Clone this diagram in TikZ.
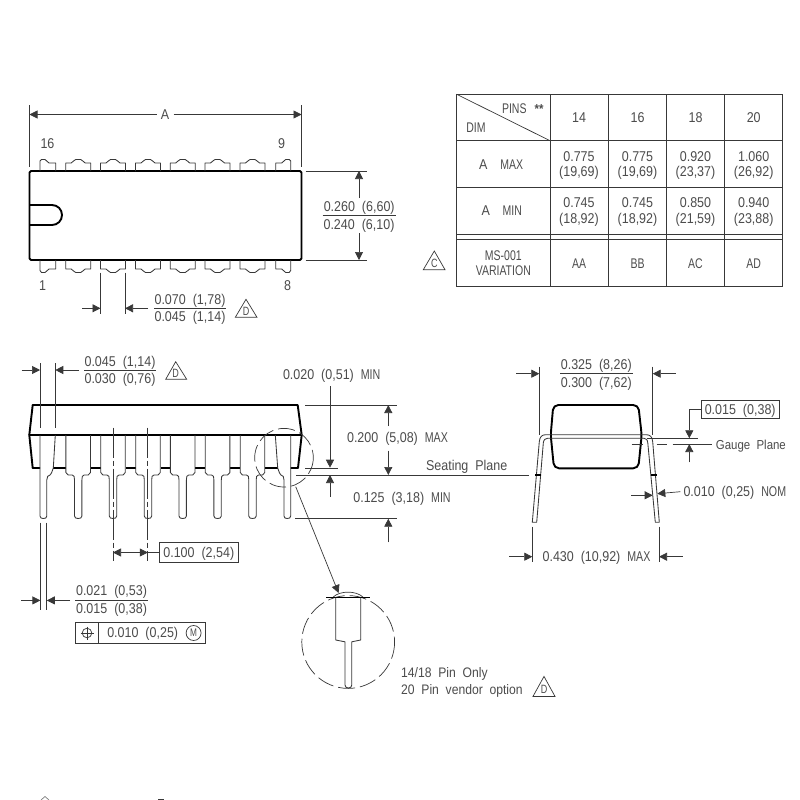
\documentclass[tikz,border=0pt]{standalone}
\usepackage{fontspec}
\setmainfont{Liberation Sans}[FakeStretch=0.88]
\newfontfamily\capsfont{Liberation Sans}[FakeStretch=0.75]
\newcommand{\nc}[1]{{\capsfont #1}}
\usetikzlibrary{arrows.meta}
\definecolor{ink}{gray}{0.22}
\definecolor{txt}{gray}{0.3}
\tikzset{
  thin line/.style={draw=ink,line width=0.7pt},
  thick line/.style={draw=black,line width=1.9pt,line join=round},
  pin line/.style={draw=ink,line width=0.85pt,line join=round},
  dim/.style={thin line,-{Triangle[length=8pt,width=8pt]}},
  lab/.style={inner sep=0pt,text=txt,text height=9.6pt,text depth=0pt,font=\fontsize{14.2}{15}\selectfont},
  tag/.style={inner sep=0pt,text=txt,text height=9.6pt,text depth=0pt,font=\capsfont\fontsize{14}{15}\selectfont},
  flag/.style={draw=ink,line width=0.7pt,line join=miter},
  centre line/.style={thin line,dash pattern=on 30pt off 3pt on 5pt off 3pt},
  detail ring/.style={thin line,dash pattern=on 17pt off 5pt}
}
\begin{document}
\begin{tikzpicture}[x=1pt,y=-1pt]
\useasboundingbox (0,0) rectangle (800,800);
\fill[white] (0,0) rectangle (800,800);

%% ---------- top view ----------
\draw[thick line,rounded corners=1.5pt] (29.5,171) rectangle (301.5,260);
\draw[thick line,rounded corners=9.9pt] (29.5,205) -- (62,205) -- (62,225) -- (29.5,225);
\foreach \c in {78.2,113,148,182.7,217.5,252.5}{
  \begin{scope}[shift={(\c,0)}]
    \draw[pin line] (-12.5,171) -- (-12.5,163) -- (-7,163) .. controls (-5,163) and (-5,159.5) .. (-2.5,159.5) -- (2.5,159.5) .. controls (5,159.5) and (5,163) .. (7,163) -- (12.5,163) -- (12.5,171);
    \draw[pin line] (-12.5,260) -- (-12.5,269) -- (-7,269) .. controls (-5,269) and (-5,272.5) .. (-2.5,272.5) -- (2.5,272.5) .. controls (5,272.5) and (5,269) .. (7,269) -- (12.5,269) -- (12.5,260);
  \end{scope}
}
\draw[pin line] (40,171) -- (40,161) -- (41.5,159.5) -- (45,159.5) .. controls (47,159.5) and (47,163) .. (49,163) -- (55.7,163) -- (55.7,171);
\draw[pin line] (290.7,171) -- (290.7,161) -- (289.2,159.5) -- (285.7,159.5) .. controls (283.7,159.5) and (283.7,163) .. (281.7,163) -- (275.7,163) -- (275.7,171);
\draw[pin line] (40,260) -- (40,270.5) -- (41.5,272.5) -- (45,272.5) .. controls (47,272.5) and (47,269) .. (49,269) -- (55.7,269) -- (55.7,260);
\draw[pin line] (290.7,260) -- (290.7,270.5) -- (289.2,272.5) -- (285.7,272.5) .. controls (283.7,272.5) and (283.7,269) .. (281.7,269) -- (275.7,269) -- (275.7,260);

\draw[thin line] (29.5,105) -- (29.5,167);
\draw[thin line] (301.5,105) -- (301.5,167);
\node[lab] (dimA) at (165,114.5) {A};
\draw[dim] (dimA.center) ++(-8.5,0) -- (29.5,114.5);
\draw[dim] (dimA.center) ++(8.5,0) -- (301.5,114.5);
\node[lab] (p16) at (47.5,144) {16};
\node[lab] (p9) at (281.6,144) {9};
\node[lab] (p1) at (42.5,286) {1};
\node[lab] (p8) at (287.7,286) {8};

\draw[thin line] (305.7,171) -- (367,171);
\draw[thin line] (305.7,260) -- (367,260);
\draw[dim] (359,198) -- (359,171);
\draw[dim] (359,233) -- (359,260);
\draw[thin line] (322.7,215.7) -- (395.7,215.7);
\node[lab] (w1) at (359.2,206.7) {0.260\ \ (6,60)};
\node[lab] (w2) at (359,224.3) {0.240\ \ (6,10)};

\draw[thin line] (100.5,272.7) -- (100.5,314.3);
\draw[thin line] (125,272.7) -- (125,314.3);
\draw[dim] (82.3,308.3) -- (100.5,308.3);
\draw[dim] (148,308.3) -- (125,308.3);
\draw[thin line] (154,308.3) -- (226,308.3);
\node[lab] (l1) at (190,300) {0.070\ \ (1,78)};
\node[lab] (l2) at (190,316.7) {0.045\ \ (1,14)};
\draw[flag] (246,299.3) -- (257,317.3) -- (235.3,317.3) -- cycle;
\node[tag,font=\capsfont\fontsize{12}{13}\selectfont] (fD1) at (246,310.5) {D};

%% ---------- table ----------
\draw[thin line] (456.7,94.3) rectangle (782.7,286.3);
\foreach \xx in {550,608.3,666.7,724.7}{\draw[thin line] (\xx,94.3) -- (\xx,286.3);}
\foreach \yy in {140.7,187.3,234,239.3}{\draw[thin line] (456.7,\yy) -- (782.7,\yy);}
\draw[thin line] (456.7,94.3) -- (550,140.7);
\node[tag] (pins) at (514.3,108.3) {PINS};
\node[lab,font=\bfseries\fontsize{13}{14}\selectfont] (stars) at (539,108.5) {**};
\node[tag] (dimh) at (476,127.7) {DIM};
\node[lab] (h14) at (579,117.7) {14};
\node[lab] (h16) at (637.5,117.7) {16};
\node[lab] (h18) at (695.5,117.7) {18};
\node[lab] (h20) at (753.7,117.7) {20};
\node[lab] (amax1) at (483.3,165) {A};
\node[tag] (amax2) at (511.7,165) {MAX};
\node[lab] (amin1) at (485.7,211) {A};
\node[tag] (amin2) at (512.3,211) {MIN};
\node[lab] (a1) at (579,156.3) {0.775};
\node[lab] (a2) at (579,171.7) {(19,69)};
\node[lab] (b1) at (637.5,156.3) {0.775};
\node[lab] (b2) at (637.5,171.7) {(19,69)};
\node[lab] (c1) at (695.5,156.3) {0.920};
\node[lab] (c2) at (695.5,171.7) {(23,37)};
\node[lab] (d1) at (753.7,156.3) {1.060};
\node[lab] (d2) at (753.7,171.7) {(26,92)};
\node[lab] (e1) at (579,203) {0.745};
\node[lab] (e2) at (579,218.3) {(18,92)};
\node[lab] (f1) at (637.5,203) {0.745};
\node[lab] (f2) at (637.5,218.3) {(18,92)};
\node[lab] (g1) at (695.5,203) {0.850};
\node[lab] (g2) at (695.5,218.3) {(21,59)};
\node[lab] (h1) at (753.7,203) {0.940};
\node[lab] (h2) at (753.7,218.3) {(23,88)};
\node[tag] (ms1) at (503.3,255.7) {MS-001};
\node[tag] (ms2) at (503.3,271) {VARIATION};
\node[tag] (vAA) at (579,263.3) {AA};
\node[tag] (vBB) at (637.5,263.3) {BB};
\node[tag] (vAC) at (695.5,263.3) {AC};
\node[tag] (vAD) at (753.7,263.3) {AD};
\draw[flag] (434.3,251) -- (445,269.7) -- (423.3,269.7) -- cycle;
\node[tag,font=\capsfont\fontsize{12}{13}\selectfont] (fC) at (434.3,262.5) {C};

%% ---------- front view ----------
\draw[thick line] (29.3,435) -- (32.7,405) -- (297.7,405) -- (301.7,435) -- (298,468) -- (290.7,468);
\draw[thick line] (40,468) -- (32.7,468) -- (29.3,435) -- (301.7,435);
\foreach \a/\b in {53.3/65.7,90.5/100.5,125.5/135.5,160.5/170.5,195/205,230/240,265/277.7}{
  \draw[thick line] (\a,468) -- (\b,468);
}
\foreach \c in {78.2,113,148,182.7,217.6,252.5}{
  \begin{scope}[shift={(\c,0)}]
    \draw[pin line] (-12.3,435) -- (-12.3,472.5) -- (-10,475) -- (-6,475) .. controls (-4,475) and (-3.7,477) .. (-3.7,480) -- (-3.7,516) .. controls (-3.7,518) and (-2,518.5) .. (0,518.5) .. controls (2,518.5) and (3.7,518) .. (3.7,516) -- (3.7,480) .. controls (3.7,477) and (4,475) .. (6,475) -- (10,475) -- (12.3,472.5) -- (12.3,435);
  \end{scope}
}
\draw[pin line] (40,435) -- (40,516) .. controls (40,518) and (41.5,518.5) .. (43.4,518.5) .. controls (45.3,518.5) and (46.8,518) .. (46.8,516) -- (46.8,480) .. controls (46.8,477) and (48,475) .. (50,475) -- (51.5,473) -- (53.3,468) -- (55.3,435);
\draw[pin line] (290.7,435) -- (290.7,516) .. controls (290.7,518) and (289.2,518.5) .. (287.3,518.5) .. controls (285.4,518.5) and (284,518) .. (284,516) -- (284,480) .. controls (284,477) and (283,475) .. (281,475) -- (279.5,473) -- (277.7,468) -- (275.3,435);

\draw[centre line] (113,427.7) -- (113,561);
\draw[centre line] (147.8,427.7) -- (147.8,561);
\draw[detail ring] (284,457.7) circle[radius=29.3];

\draw[thin line] (40,363) -- (40,428);
\draw[thin line] (55.3,363) -- (55.3,428);
\draw[dim] (21.7,370) -- (40,370);
\draw[dim] (79,370) -- (55.3,370);
\draw[thin line] (84,370) -- (156,370);
\node[lab] (t1) at (120,362) {0.045\ \ (1,14)};
\node[lab] (t2) at (120,379) {0.030\ \ (0,76)};
\draw[flag] (175.7,361.7) -- (186.7,379.3) -- (165.7,379.3) -- cycle;
\node[tag,font=\capsfont\fontsize{12}{13}\selectfont] (fD2) at (175.7,372.5) {D};

\draw[thin line] (305,405) -- (396.7,405);
\draw[thin line] (305,468) -- (337.7,468);
\draw[thin line] (296,475) -- (529,475);
\draw[thin line] (295,518.7) -- (396.7,518.7);
\node[lab] (m020) at (331.7,374.3) {0.020\ \ (0,51)\ \ \nc{MIN}};
\draw[dim] (330,386) -- (330,467.7);
\draw[dim] (330,496.7) -- (330,475);
\draw[dim] (388.3,426) -- (388.3,405);
\draw[dim] (388.3,450.7) -- (388.3,475);
\draw[dim] (388.3,542.3) -- (388.3,518.7);
\node[lab] (m200) at (397.5,438) {0.200\ \ (5,08)\ \ \nc{MAX}};
\node[lab] (seat) at (466.7,465.3) {Seating\ \ Plane};
\node[lab] (m125) at (402,497.3) {0.125\ \ (3,18)\ \ \nc{MIN}};

\node[draw=ink,line width=0.7pt,minimum width=79pt,minimum height=20pt,inner sep=0pt] (pitch) at (198.8,552.5) {};
\node[lab] (pitchval) at (pitch.center) {0.100\ \ (2,54)};
\draw[thin line] (pitch.west) -- (147.8,552.5);
\draw[{Triangle[length=8pt,width=8pt]}-{Triangle[length=8pt,width=8pt]},thin line] (113,552.5) -- (147.8,552.5);

\draw[thin line] (40.4,522.7) -- (40.4,609.6);
\draw[thin line] (46.8,522.7) -- (46.8,609.6);
\draw[dim] (21.4,600.4) -- (40.4,600.4);
\draw[dim] (70,600.4) -- (46.8,600.4);
\draw[thin line] (75.4,600.4) -- (147.5,600.4);
\node[lab] (u1) at (111.5,591) {0.021\ \ (0,53)};
\node[lab] (u2) at (111.5,609) {0.015\ \ (0,38)};
\draw[thin line] (75.7,622.5) rectangle (205.4,643.2);
\draw[thin line] (98.6,622.5) -- (98.6,643.2);
\draw[thin line] (87,633) circle[radius=4.8];
\draw[thin line] (80.5,633) -- (93.5,633);
\draw[thin line] (87,626.5) -- (87,639.5);
\node[lab] (tol) at (142.7,632.8) {0.010\ \ (0,25)};
\node[draw=ink,line width=0.7pt,circle,inner sep=0pt,minimum size=15pt,text=txt,font=\capsfont\fontsize{11}{12}\selectfont] (mm) at (193.6,633) {M};

%% ---------- detail ----------
\draw[detail ring] (348.2,642) circle[radius=46.4];
\draw[dim] (295.7,486.7) -- (338.6,593);
\draw[thin line] (333.2,597) .. controls (340,590.5) and (356,590.5) .. (362.9,597);
\draw[thick line] (326,597.5) -- (370,597.5);
\draw[pin line] (335.7,597.5) -- (335.7,640) -- (345,641.8) -- (345,685) .. controls (345,687) and (346.5,688) .. (348.4,688) .. controls (350.3,688) and (351.8,687) .. (351.8,685) -- (351.8,641.8) -- (360.7,640) -- (360.7,597.5);
\node[lab,anchor=west,font=\fontsize{13.8}{15}\selectfont] (n1) at (401,672.5) {14/18\ \ Pin\ \ Only};
\node[lab,anchor=west,font=\fontsize{13.8}{15}\selectfont] (n2) at (401,690) {20\ \ Pin\ \ vendor\ \ option};
\draw[flag] (544,676.4) -- (555,696.4) -- (533,696.4) -- cycle;
\node[tag,font=\capsfont\fontsize{12}{13}\selectfont] (fD3) at (544,689) {D};

%% ---------- side view ----------
\draw[thick line,rounded corners=5pt] (553.3,405) -- (638.3,405) -- (641.7,435) -- (638.3,468.3) -- (554,468.3) -- (550.7,435) -- cycle;
\draw[pin line] (532.3,522.3) -- (539.3,441.7) .. controls (539.8,436.5) and (542,434.7) .. (546,434.7) -- (646,434.7) .. controls (650,434.7) and (652.2,436.5) .. (652.7,441.7) -- (659.3,522.3) -- (655.3,522.3) -- (647.8,443) .. controls (647.4,439.5) and (646,438.3) .. (644,438.3) -- (547.5,438.3) .. controls (545.5,438.3) and (543.7,439.5) .. (543.3,443) -- (536.7,522.3) -- cycle;
\draw[line width=1.6pt,black] (535.4,475) -- (541,475);
\draw[line width=1.6pt,black] (651,475) -- (656.6,475);

\draw[thin line] (539.3,366.7) -- (539.3,435);
\draw[thin line] (652.7,366.7) -- (652.7,435);
\draw[dim] (516,373.7) -- (539.3,373.7);
\draw[dim] (675.7,373.7) -- (652.7,373.7);
\draw[thin line] (560,373.7) -- (632.7,373.7);
\node[lab] (s1) at (596.3,365) {0.325\ \ (8,26)};
\node[lab] (s2) at (596.3,382.3) {0.300\ \ (7,62)};

\node[draw=ink,line width=0.7pt,minimum width=78.3pt,minimum height=18pt,inner sep=0pt] (gbox) at (740.2,409.7) {};
\node[lab] (gval) at (gbox.center) {0.015\ \ (0,38)};
\draw[dim] (gbox.west) -- (689.3,409.7) -- (689.3,438.3);
\draw[thin line] (647,438.3) -- (697.7,438.3);
\draw[thin line] (631.7,444) -- (643.3,444);
\draw[thin line] (656.7,444) -- (666.7,444);
\draw[thin line] (672.7,444) -- (711.7,444);
\draw[dim] (689.3,462.3) -- (689.3,444);
\node[lab,anchor=west,font=\fontsize{13}{14}\selectfont] (gauge) at (715.7,444.7) {Gauge\ \ Plane};
\node[lab,anchor=west] (nom) at (683.3,491.7) {0.010\ \ (0,25)\ \ \nc{NOM}};
\draw[dim] (631,495.3) -- (652.7,495.3);
\draw[dim] (nom.west) ++(-3,0) -- (657.3,493.7);
\draw[thin line] (532.3,526.7) -- (532.3,562.3);
\draw[thin line] (659,526.7) -- (659,562.3);
\draw[dim] (509,556.7) -- (532.3,556.7);
\draw[dim] (682.7,556.7) -- (659,556.7);
\node[lab] (wmax) at (596.5,556.7) {0.430\ \ (10,92)\ \ \nc{MAX}};

%% ---------- cut-off marks at the lower edge ----------
\draw[thin line,draw=gray] (41,800) -- (45,796.5) -- (49,800);
\draw[thin line] (158,799.5) -- (164,799.5);
\end{tikzpicture}
\end{document}
